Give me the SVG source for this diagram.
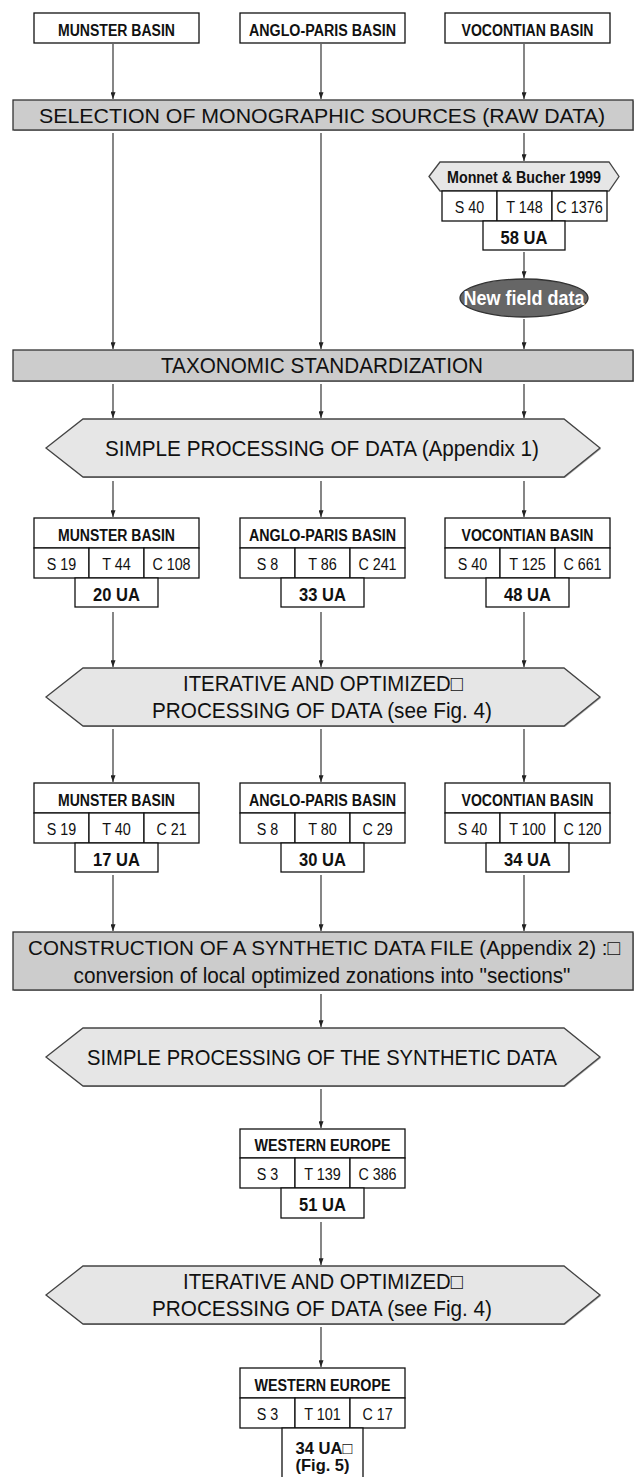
<svg xmlns="http://www.w3.org/2000/svg" width="635" height="1477" viewBox="0 0 635 1477">
<style>
text{font-family:"Liberation Sans",Arial,"DejaVu Sans",sans-serif;fill:#111;text-anchor:middle}
.big{font-size:22px}
.big2{font-size:21px}
.hd{font-size:16px;font-weight:bold}
.cell{font-size:16px}
.ua{font-size:18px;font-weight:bold}
.ua2{font-size:17px;font-weight:bold}
.box{fill:#fff;stroke:#111;stroke-width:1.3}
.bar{fill:#cccccc;stroke:#333;stroke-width:1.3}
.hex{fill:#e6e6e6;stroke:#444;stroke-width:1.3}
.sh{fill:#aaa;stroke:none}
.con line{stroke:#222;stroke-width:1.1;marker-end:url(#ah)}
.wt{fill:#fff;font-size:20px;font-weight:bold}
</style>
<defs>
<marker id="ah" viewBox="0 0 8 6" markerWidth="7" markerHeight="5" refX="8" refY="3" orient="auto" markerUnits="userSpaceOnUse">
<path d="M0,0 L8,3 L0,6 z" fill="#222"/>
</marker>
</defs>

<g id="src-munster"><rect class="box" x="34" y="13" width="165" height="30"/><text class="hd" x="116.5" y="35.5" textLength="117" lengthAdjust="spacingAndGlyphs">MUNSTER BASIN</text></g>
<g id="src-anglo"><rect class="box" x="240" y="13" width="165" height="30"/><text class="hd" x="322.5" y="35.5" textLength="147" lengthAdjust="spacingAndGlyphs">ANGLO-PARIS BASIN</text></g>
<g id="src-vocontian"><rect class="box" x="445" y="13" width="165" height="30"/><text class="hd" x="527.5" y="35.5" textLength="132" lengthAdjust="spacingAndGlyphs">VOCONTIAN BASIN</text></g>

<g id="selection"><rect class="sh" x="14" y="101" width="620" height="30"/><rect class="bar" x="13" y="100" width="620" height="30"/><text class="big2" x="322" y="122.6" textLength="566" lengthAdjust="spacingAndGlyphs">SELECTION OF MONOGRAPHIC SOURCES (RAW DATA)</text></g>

<g id="monnet">
<polygon class="hex" points="429,176.5 440,162 609,162 619,176.5 609,191 440,191"/>
<text class="hd" x="524" y="182.5" textLength="154" lengthAdjust="spacingAndGlyphs">Monnet &amp; Bucher 1999</text>
<rect class="box" x="442" y="191" width="55" height="30"/><text class="cell" x="469.5" y="213" textLength="29.4" lengthAdjust="spacingAndGlyphs">S 40</text>
<rect class="box" x="497" y="191" width="55" height="30"/><text class="cell" x="524.5" y="213" textLength="36.6" lengthAdjust="spacingAndGlyphs">T 148</text>
<rect class="box" x="552" y="191" width="55" height="30"/><text class="cell" x="579.5" y="213" textLength="46.5" lengthAdjust="spacingAndGlyphs">C 1376</text>
<rect class="box" x="483" y="221" width="82" height="29"/><text class="ua" x="524" y="243.5" textLength="46.8" lengthAdjust="spacingAndGlyphs">58 UA</text>
</g>

<g id="newfield"><ellipse cx="524" cy="298" rx="64" ry="19" fill="#666" stroke="#333" stroke-width="1.3"/><text class="wt" x="524" y="305" textLength="121" lengthAdjust="spacingAndGlyphs">New field data</text></g>

<g id="taxonomic"><rect class="sh" x="14" y="351" width="620" height="31"/><rect class="bar" x="13" y="350" width="620" height="31"/><text class="big" x="322" y="373.4" textLength="322" lengthAdjust="spacingAndGlyphs">TAXONOMIC STANDARDIZATION</text></g>

<g id="simple1"><polygon class="sh" points="47,449 84,420 565,420 601,449 565,478 84,478"/><polygon class="hex" points="46,448 83,419 564,419 600,448 564,477 83,477"/><text class="big" x="322" y="455.9" textLength="434" lengthAdjust="spacingAndGlyphs">SIMPLE PROCESSING OF DATA (Appendix 1)</text></g>

<g id="res1-munster">
<rect class="box" x="34" y="518" width="165" height="30"/><text class="hd" x="116.5" y="540.5" textLength="117" lengthAdjust="spacingAndGlyphs">MUNSTER BASIN</text>
<rect class="box" x="34" y="548" width="55" height="30"/><text class="cell" x="61.5" y="570" textLength="29.4" lengthAdjust="spacingAndGlyphs">S 19</text>
<rect class="box" x="89" y="548" width="55" height="30"/><text class="cell" x="116.5" y="570" textLength="28.6" lengthAdjust="spacingAndGlyphs">T 44</text>
<rect class="box" x="144" y="548" width="55" height="30"/><text class="cell" x="171.5" y="570" textLength="38.2" lengthAdjust="spacingAndGlyphs">C 108</text>
<rect class="box" x="75" y="578" width="83" height="29"/><text class="ua" x="116.5" y="600.5" textLength="46.8" lengthAdjust="spacingAndGlyphs">20 UA</text>
</g>
<g id="res1-anglo">
<rect class="box" x="240" y="518" width="165" height="30"/><text class="hd" x="322.5" y="540.5" textLength="147" lengthAdjust="spacingAndGlyphs">ANGLO-PARIS BASIN</text>
<rect class="box" x="240" y="548" width="55" height="30"/><text class="cell" x="267.5" y="570" textLength="21.5" lengthAdjust="spacingAndGlyphs">S 8</text>
<rect class="box" x="295" y="548" width="55" height="30"/><text class="cell" x="322.5" y="570" textLength="28.6" lengthAdjust="spacingAndGlyphs">T 86</text>
<rect class="box" x="350" y="548" width="55" height="30"/><text class="cell" x="377.5" y="570" textLength="38.2" lengthAdjust="spacingAndGlyphs">C 241</text>
<rect class="box" x="281" y="578" width="83" height="29"/><text class="ua" x="322.5" y="600.5" textLength="46.8" lengthAdjust="spacingAndGlyphs">33 UA</text>
</g>
<g id="res1-vocontian">
<rect class="box" x="445" y="518" width="165" height="30"/><text class="hd" x="527.5" y="540.5" textLength="132" lengthAdjust="spacingAndGlyphs">VOCONTIAN BASIN</text>
<rect class="box" x="445" y="548" width="55" height="30"/><text class="cell" x="472.5" y="570" textLength="29.4" lengthAdjust="spacingAndGlyphs">S 40</text>
<rect class="box" x="500" y="548" width="55" height="30"/><text class="cell" x="527.5" y="570" textLength="36.6" lengthAdjust="spacingAndGlyphs">T 125</text>
<rect class="box" x="555" y="548" width="55" height="30"/><text class="cell" x="582.5" y="570" textLength="38.2" lengthAdjust="spacingAndGlyphs">C 661</text>
<rect class="box" x="486" y="578" width="83" height="29"/><text class="ua" x="527.5" y="600.5" textLength="46.8" lengthAdjust="spacingAndGlyphs">48 UA</text>
</g>

<g id="iterative1"><polygon class="sh" points="47,698 84,669 565,669 601,698 565,727 84,727"/><polygon class="hex" points="46,697 83,668 564,668 600,697 564,726 83,726"/>
<text class="big" x="323" y="690.5" textLength="280" lengthAdjust="spacingAndGlyphs">ITERATIVE AND OPTIMIZED□</text><text class="big" x="322" y="717.5" textLength="340" lengthAdjust="spacingAndGlyphs">PROCESSING OF DATA (see Fig. 4)</text></g>

<g id="res2-munster">
<rect class="box" x="34" y="783" width="165" height="30"/><text class="hd" x="116.5" y="805.5" textLength="117" lengthAdjust="spacingAndGlyphs">MUNSTER BASIN</text>
<rect class="box" x="34" y="813" width="55" height="30"/><text class="cell" x="61.5" y="835" textLength="29.4" lengthAdjust="spacingAndGlyphs">S 19</text>
<rect class="box" x="89" y="813" width="55" height="30"/><text class="cell" x="116.5" y="835" textLength="28.6" lengthAdjust="spacingAndGlyphs">T 40</text>
<rect class="box" x="144" y="813" width="55" height="30"/><text class="cell" x="171.5" y="835" textLength="30.2" lengthAdjust="spacingAndGlyphs">C 21</text>
<rect class="box" x="75" y="843" width="83" height="29"/><text class="ua" x="116.5" y="865.5" textLength="46.8" lengthAdjust="spacingAndGlyphs">17 UA</text>
</g>
<g id="res2-anglo">
<rect class="box" x="240" y="783" width="165" height="30"/><text class="hd" x="322.5" y="805.5" textLength="147" lengthAdjust="spacingAndGlyphs">ANGLO-PARIS BASIN</text>
<rect class="box" x="240" y="813" width="55" height="30"/><text class="cell" x="267.5" y="835" textLength="21.5" lengthAdjust="spacingAndGlyphs">S 8</text>
<rect class="box" x="295" y="813" width="55" height="30"/><text class="cell" x="322.5" y="835" textLength="28.6" lengthAdjust="spacingAndGlyphs">T 80</text>
<rect class="box" x="350" y="813" width="55" height="30"/><text class="cell" x="377.5" y="835" textLength="30.2" lengthAdjust="spacingAndGlyphs">C 29</text>
<rect class="box" x="281" y="843" width="83" height="29"/><text class="ua" x="322.5" y="865.5" textLength="46.8" lengthAdjust="spacingAndGlyphs">30 UA</text>
</g>
<g id="res2-vocontian">
<rect class="box" x="445" y="783" width="165" height="30"/><text class="hd" x="527.5" y="805.5" textLength="132" lengthAdjust="spacingAndGlyphs">VOCONTIAN BASIN</text>
<rect class="box" x="445" y="813" width="55" height="30"/><text class="cell" x="472.5" y="835" textLength="29.4" lengthAdjust="spacingAndGlyphs">S 40</text>
<rect class="box" x="500" y="813" width="55" height="30"/><text class="cell" x="527.5" y="835" textLength="36.6" lengthAdjust="spacingAndGlyphs">T 100</text>
<rect class="box" x="555" y="813" width="55" height="30"/><text class="cell" x="582.5" y="835" textLength="38.2" lengthAdjust="spacingAndGlyphs">C 120</text>
<rect class="box" x="486" y="843" width="83" height="29"/><text class="ua" x="527.5" y="865.5" textLength="46.8" lengthAdjust="spacingAndGlyphs">34 UA</text>
</g>

<g id="construction"><rect class="sh" x="14" y="933" width="620" height="58"/><rect class="bar" x="13" y="932" width="620" height="58"/>
<text class="big2" x="324" y="954.5" textLength="592" lengthAdjust="spacingAndGlyphs">CONSTRUCTION OF A SYNTHETIC DATA FILE (Appendix 2) :□</text><text class="big" x="322" y="982.5" textLength="497" lengthAdjust="spacingAndGlyphs">conversion of local optimized zonations into "sections"</text></g>

<g id="simple2"><polygon class="sh" points="47,1058 84,1029 565,1029 601,1058 565,1087 84,1087"/><polygon class="hex" points="46,1057 83,1028 564,1028 600,1057 564,1086 83,1086"/><text class="big" x="322" y="1064.9" textLength="470" lengthAdjust="spacingAndGlyphs">SIMPLE PROCESSING OF THE SYNTHETIC DATA</text></g>

<g id="we1">
<rect class="box" x="240" y="1129" width="165" height="29"/><text class="hd" x="322.5" y="1151" textLength="136" lengthAdjust="spacingAndGlyphs">WESTERN EUROPE</text>
<rect class="box" x="240" y="1158" width="55" height="30"/><text class="cell" x="267.5" y="1180" textLength="21.5" lengthAdjust="spacingAndGlyphs">S 3</text>
<rect class="box" x="295" y="1158" width="55" height="30"/><text class="cell" x="322.5" y="1180" textLength="36.6" lengthAdjust="spacingAndGlyphs">T 139</text>
<rect class="box" x="350" y="1158" width="55" height="30"/><text class="cell" x="377.5" y="1180" textLength="38.2" lengthAdjust="spacingAndGlyphs">C 386</text>
<rect class="box" x="281" y="1188" width="83" height="30"/><text class="ua" x="322.5" y="1211" textLength="46.8" lengthAdjust="spacingAndGlyphs">51 UA</text>
</g>

<g id="iterative2"><polygon class="sh" points="47,1296 84,1267 565,1267 601,1296 565,1325 84,1325"/><polygon class="hex" points="46,1295 83,1266 564,1266 600,1295 564,1324 83,1324"/>
<text class="big" x="323" y="1288.5" textLength="280" lengthAdjust="spacingAndGlyphs">ITERATIVE AND OPTIMIZED□</text><text class="big" x="322" y="1315.5" textLength="340" lengthAdjust="spacingAndGlyphs">PROCESSING OF DATA (see Fig. 4)</text></g>

<g id="we2">
<rect class="box" x="240" y="1368" width="165" height="30"/><text class="hd" x="322.5" y="1390.5" textLength="136" lengthAdjust="spacingAndGlyphs">WESTERN EUROPE</text>
<rect class="box" x="240" y="1398" width="55" height="30"/><text class="cell" x="267.5" y="1420" textLength="21.5" lengthAdjust="spacingAndGlyphs">S 3</text>
<rect class="box" x="295" y="1398" width="55" height="30"/><text class="cell" x="322.5" y="1420" textLength="36.6" lengthAdjust="spacingAndGlyphs">T 101</text>
<rect class="box" x="350" y="1398" width="55" height="30"/><text class="cell" x="377.5" y="1420" textLength="30.2" lengthAdjust="spacingAndGlyphs">C 17</text>
<rect class="box" x="282" y="1428" width="81" height="55"/><text class="ua2" x="324" y="1454" textLength="57" lengthAdjust="spacingAndGlyphs">34 UA□</text><text class="ua2" x="322.5" y="1471" textLength="54" lengthAdjust="spacingAndGlyphs">(Fig. 5)</text>
</g>

<g id="connectors" class="con">
<line x1="113" y1="44" x2="113" y2="99"/>
<line x1="321" y1="44" x2="321" y2="99"/>
<line x1="524" y1="44" x2="524" y2="99"/>
<line x1="113" y1="133" x2="113" y2="349"/>
<line x1="321" y1="133" x2="321" y2="349"/>
<line x1="524" y1="133" x2="524" y2="161"/>
<line x1="524" y1="252" x2="524" y2="278"/>
<line x1="524" y1="319" x2="524" y2="349"/>
<line x1="113" y1="384" x2="113" y2="418"/>
<line x1="321" y1="384" x2="321" y2="418"/>
<line x1="524" y1="384" x2="524" y2="418"/>
<line x1="113" y1="481" x2="113" y2="517"/>
<line x1="321" y1="481" x2="321" y2="517"/>
<line x1="524" y1="481" x2="524" y2="517"/>
<line x1="113" y1="612" x2="113" y2="667"/>
<line x1="321" y1="612" x2="321" y2="667"/>
<line x1="524" y1="612" x2="524" y2="667"/>
<line x1="113" y1="729" x2="113" y2="782"/>
<line x1="321" y1="729" x2="321" y2="782"/>
<line x1="524" y1="729" x2="524" y2="782"/>
<line x1="113" y1="875" x2="113" y2="931"/>
<line x1="321" y1="875" x2="321" y2="931"/>
<line x1="524" y1="875" x2="524" y2="931"/>
<line x1="321" y1="994" x2="321" y2="1027"/>
<line x1="321" y1="1089" x2="321" y2="1128"/>
<line x1="321" y1="1222" x2="321" y2="1265"/>
<line x1="321" y1="1327" x2="321" y2="1367"/>
</g>
</svg>
